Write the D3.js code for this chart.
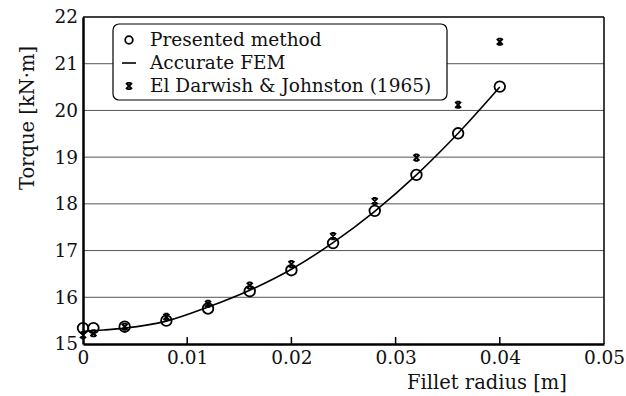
<!DOCTYPE html>
<html>
<head>
<meta charset="utf-8">
<script src="https://cdn.jsdelivr.net/npm/d3@7"></script>
<style>
  html, body { margin: 0; padding: 0; background: #fff; }
  svg { display: block; }
  text { font-family: "DejaVu Serif", "Noto Serif", serif; fill: #111; }
</style>
</head>
<body>
<svg id="chart" width="626" height="396"></svg>
<script>
// ---- data ----
const radius = [0, 0.001, 0.004, 0.008, 0.012, 0.016, 0.020, 0.024, 0.028, 0.032, 0.036, 0.040];
const presented = [15.34, 15.34, 15.37, 15.50, 15.76, 16.13, 16.58, 17.16, 17.85, 18.62, 19.51, 20.51];
const darwish   = [15.19, 15.23, 15.37, 15.58, 15.86, 16.25, 16.71, 17.31, 18.06, 18.99, 20.12, 21.47];
const femRadius = [0, 0.002, 0.004, 0.008, 0.012, 0.016, 0.020, 0.024, 0.028, 0.032, 0.036, 0.040];
const femTorque = [15.27, 15.30, 15.34, 15.49, 15.79, 16.15, 16.60, 17.17, 17.84, 18.62, 19.51, 20.50];
const xTicks = [0, 0.01, 0.02, 0.03, 0.04, 0.05];
const yTicks = [15, 16, 17, 18, 19, 20, 21, 22];
const legendLabels = ["Presented method", "Accurate FEM", "El Darwish & Johnston (1965)"];

// ---- layout ----
const svg = d3.select("#chart");
const L = 83, R = 604, T = 17, B = 344;
const x = d3.scaleLinear().domain([0, 0.05]).range([L, R]);
const y = d3.scaleLinear().domain([15, 22]).range([B, T]);
const FS = 18.5, FL = 19.5;

// grid lines
svg.append("g").selectAll("line").data(yTicks.slice(1, -1)).join("line")
  .attr("x1", L).attr("x2", R)
  .attr("y1", d => y(d)).attr("y2", d => y(d))
  .attr("stroke", "#555").attr("stroke-width", 1);

// FEM curve
const line = d3.line().x((d, i) => x(femRadius[i])).y(d => y(d)).curve(d3.curveMonotoneX);
svg.append("path").datum(femTorque).attr("d", line)
  .attr("fill", "none").attr("stroke", "#000").attr("stroke-width", 1.6);

// presented method circles
svg.append("g").selectAll("circle").data(presented).join("circle")
  .attr("cx", (d, i) => x(radius[i])).attr("cy", d => y(d)).attr("r", 5.3)
  .attr("fill", "none").attr("stroke", "#000").attr("stroke-width", 1.8);

// El Darwish crosses
const crossPath = "M-3,-3L3,3M3,-3L-3,3M-1.8,-3.1L1.8,-3.1M-1.8,3.1L1.8,3.1";
svg.append("g").selectAll("path").data(darwish).join("path")
  .attr("d", crossPath)
  .attr("transform", (d, i) => `translate(${x(radius[i])},${y(d)})`)
  .attr("fill", "none").attr("stroke", "#000").attr("stroke-width", 1.9);

// axes frame
svg.append("line").attr("x1", L).attr("x2", R).attr("y1", T).attr("y2", T).attr("stroke", "#000").attr("stroke-width", 1.5);
svg.append("line").attr("x1", R).attr("x2", R).attr("y1", T).attr("y2", B).attr("stroke", "#000").attr("stroke-width", 1.5);

const xAxis = d3.axisBottom(x).tickValues(xTicks).tickSize(0).tickPadding(7)
  .tickFormat(d => d === 0 ? "0" : d3.format(".2f")(d));
const gx = svg.append("g").attr("transform", `translate(0,${B})`).call(xAxis);
gx.select(".domain").attr("stroke", "#000").attr("stroke-width", 2.5);
gx.selectAll("text").attr("font-size", FS).attr("fill", "#111");
// inward ticks
svg.append("g").selectAll("line").data(xTicks.slice(1, -1)).join("line")
  .attr("x1", d => x(d)).attr("x2", d => x(d)).attr("y1", B).attr("y2", B - 7)
  .attr("stroke", "#000").attr("stroke-width", 1.5);

const yAxis = d3.axisLeft(y).tickValues(yTicks).tickSize(0).tickPadding(5).tickFormat(d3.format("d"));
const gy = svg.append("g").attr("transform", `translate(${L},0)`).call(yAxis);
gy.select(".domain").attr("stroke", "#000").attr("stroke-width", 2.5);
gy.selectAll("text").attr("font-size", FS).attr("fill", "#111");

// axis labels
svg.append("text").attr("x", 487).attr("y", 389).attr("text-anchor", "middle")
  .attr("font-size", FL).text("Fillet radius [m]");
svg.append("text").attr("transform", "translate(34,118) rotate(-90)").attr("text-anchor", "middle")
  .attr("font-size", FL).text("Torque [kN·m]");

// legend
const lg = svg.append("g");
lg.append("rect").attr("x", 113).attr("y", 24).attr("width", 334).attr("height", 76)
  .attr("rx", 6).attr("fill", "#fff").attr("stroke", "#000").attr("stroke-width", 1.2);
const rowY = [40, 63, 86];
lg.append("circle").attr("cx", 129).attr("cy", rowY[0]).attr("r", 3.8)
  .attr("fill", "none").attr("stroke", "#000").attr("stroke-width", 1.8);
lg.append("line").attr("x1", 122).attr("x2", 136).attr("y1", rowY[1]).attr("y2", rowY[1])
  .attr("stroke", "#000").attr("stroke-width", 1.6);
lg.append("path").attr("d", crossPath).attr("transform", `translate(129,${rowY[2]})`)
  .attr("fill", "none").attr("stroke", "#000").attr("stroke-width", 1.9);
lg.selectAll("text").data(legendLabels).join("text")
  .attr("x", 150).attr("y", (d, i) => rowY[i]).attr("dy", "0.35em")
  .attr("font-size", FS).text(d => d);
</script>
</body>
</html>
